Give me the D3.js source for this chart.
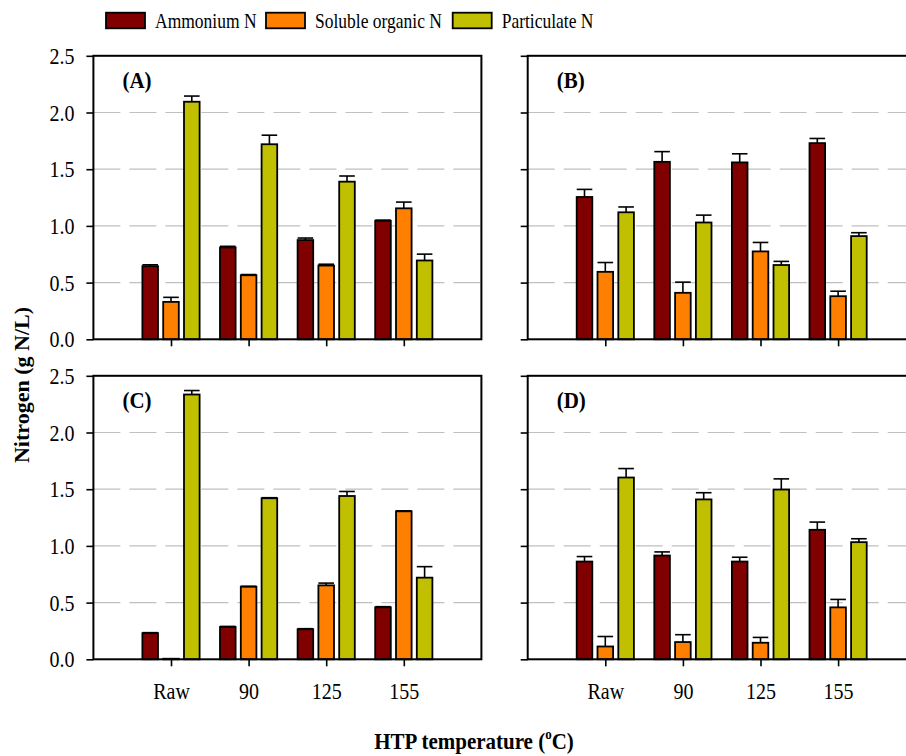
<!DOCTYPE html>
<html>
<head>
<meta charset="utf-8">
<script src="https://cdn.jsdelivr.net/npm/d3@7"></script>
<style>
  body { margin: 0; background: #fff; }
  svg { display: block; font-family: "Liberation Serif", "Times New Roman", serif; }
</style>
</head>
<body>
<svg id="chart" width="906" height="756"></svg>
<script>
// categories / series
const categories = ["Raw", "90", "125", "155"];
const seriesNames = ["Ammonium N", "Soluble organic N", "Particulate N"];
const seriesColors = ["#800000", "#ff8000", "#c0c000"];
const yTicks = [0, 0.5, 1.0, 1.5, 2.0, 2.5];

// values per panel: rows = Ammonium, Soluble organic, Particulate
const meansA = [[0.645, 0.81, 0.875, 1.045], [0.33, 0.565, 0.65, 1.155], [2.095, 1.72, 1.39, 0.695]];
const errA   = [[0.012, 0.01, 0.018, 0.006], [0.04, 0.006, 0.012, 0.055], [0.05, 0.08, 0.05, 0.056]];
const meansB = [[1.255, 1.565, 1.56, 1.73], [0.595, 0.41, 0.775, 0.38], [1.12, 1.03, 0.655, 0.91]];
const errB   = [[0.067, 0.09, 0.076, 0.041], [0.082, 0.094, 0.079, 0.044], [0.047, 0.065, 0.032, 0.03]];
const meansC = [[0.23, 0.285, 0.265, 0.458], [0.005, 0.64, 0.652, 1.305], [2.335, 1.42, 1.44, 0.72]];
const errC   = [[0.005, 0.005, 0.005, 0.006], [0, 0.004, 0.02, 0.004], [0.035, 0.005, 0.04, 0.097]];
const meansD = [[0.862, 0.915, 0.862, 1.142], [0.113, 0.152, 0.146, 0.458], [1.603, 1.41, 1.497, 1.033]];
const errD   = [[0.044, 0.032, 0.038, 0.068], [0.088, 0.065, 0.047, 0.07], [0.079, 0.059, 0.094, 0.03]];

const panels = [
  { label: "(A)", means: meansA, err: errA, col: 0, row: 0 },
  { label: "(B)", means: meansB, err: errB, col: 1, row: 0 },
  { label: "(C)", means: meansC, err: errC, col: 0, row: 1 },
  { label: "(D)", means: meansD, err: errD, col: 1, row: 1 }
];

const svg = d3.select("#chart");

const colLeft = [93.4, 527.7];
const panelW = 388;
const rowTop = [55.8, 375.8];
const panelH = 283.5;
const barW = 15.6;
const stretch = 1.12; // the reference text is a bit taller than wide

const offset = d3.scalePoint().domain(seriesNames).range([-20.8, 20.8]);

panels.forEach(p => {
  const x0 = colLeft[p.col], y0 = rowTop[p.row];
  const x = d3.scaleLinear().domain([0, 5]).range([x0, x0 + panelW]);
  const y = d3.scaleLinear().domain([0, 2.5]).range([y0 + panelH, y0]);
  const g = svg.append("g");

  // grid lines
  g.append("g").selectAll("line")
    .data(yTicks.filter(t => t > 0 && t < 2.5))
    .join("line")
    .attr("x1", x(0)).attr("x2", x(5))
    .attr("y1", d => y(d)).attr("y2", d => y(d))
    .attr("stroke", "#c0c0c0")
    .attr("stroke-width", 1.2)
    .attr("stroke-dasharray", "27,9");

  // bars
  const items = [];
  seriesNames.forEach((s, si) => {
    categories.forEach((c, ci) => {
      items.push({ s, si, ci, v: p.means[si][ci], e: p.err[si][ci] });
    });
  });

  g.append("g").selectAll("rect")
    .data(items)
    .join("rect")
    .attr("x", d => x(d.ci + 1) + offset(d.s) - barW / 2)
    .attr("y", d => y(d.v))
    .attr("width", barW)
    .attr("height", d => y(0) - y(d.v))
    .attr("fill", d => seriesColors[d.si])
    .attr("stroke", "#000")
    .attr("stroke-width", 1.8);

  // error bars (upper only)
  const eb = g.append("g").attr("stroke", "#000").attr("stroke-width", 1.6)
    .selectAll("g").data(items.filter(d => d.e > 0)).join("g");
  eb.append("line")
    .attr("x1", d => x(d.ci + 1) + offset(d.s)).attr("x2", d => x(d.ci + 1) + offset(d.s))
    .attr("y1", d => y(d.v)).attr("y2", d => y(d.v + d.e));
  eb.append("line")
    .attr("x1", d => x(d.ci + 1) + offset(d.s) - barW / 2)
    .attr("x2", d => x(d.ci + 1) + offset(d.s) + barW / 2)
    .attr("y1", d => y(d.v + d.e)).attr("y2", d => y(d.v + d.e));

  // frame
  g.append("rect")
    .attr("x", x(0)).attr("y", y(2.5))
    .attr("width", x(5) - x(0)).attr("height", y(0) - y(2.5))
    .attr("fill", "none").attr("stroke", "#000").attr("stroke-width", 2);

  // y axis
  const yAxis = d3.axisLeft(y).tickValues(yTicks).tickSize(7).tickPadding(12)
    .tickFormat(p.col === 0 ? d3.format(".1f") : () => "");
  const ya = g.append("g").attr("transform", `translate(${x(0)},0)`).call(yAxis);
  ya.select(".domain").remove();
  ya.selectAll(".tick line").attr("stroke-width", 1.6);
  ya.selectAll("text").attr("font-size", 20).attr("font-family", "Liberation Serif, serif")
    .attr("dy", "0.34em").attr("transform", `scale(1,${stretch})`);

  // x axis
  const xAxis = d3.axisBottom(x).tickValues([1, 2, 3, 4]).tickSize(7).tickPadding(14)
    .tickFormat(p.row === 1 ? (d => categories[d - 1]) : () => "");
  const xa = g.append("g").attr("transform", `translate(0,${y(0)})`).call(xAxis);
  xa.select(".domain").remove();
  xa.selectAll(".tick line").attr("stroke-width", 1.6);
  xa.selectAll("text").attr("font-size", 20).attr("font-family", "Liberation Serif, serif")
    .attr("transform", `scale(1,${stretch})`);

  // panel label
  g.append("text")
    .attr("transform", `translate(${x(0) + 29},${y0 + 32}) scale(1,${stretch})`)
    .attr("font-size", 21).attr("font-weight", "bold")
    .text(p.label);
});

// legend
const legendX = [106, 266, 452.7];
const leg = svg.append("g").selectAll("g").data(seriesNames).join("g")
  .attr("transform", (d, i) => `translate(${legendX[i]},12.7)`);
leg.append("rect")
  .attr("width", 39).attr("height", 15.6)
  .attr("fill", (d, i) => seriesColors[i])
  .attr("stroke", "#000").attr("stroke-width", 1.8);
leg.append("text")
  .attr("transform", `translate(49,14.8) scale(1,${stretch + 0.06})`)
  .attr("font-size", 17.5)
  .text(d => d);

// axis titles
svg.append("text")
  .attr("transform", "translate(29,385) rotate(-90)")
  .attr("text-anchor", "middle")
  .attr("font-size", 22).attr("font-weight", "bold")
  .text("Nitrogen (g N/L)");

const xt = svg.append("text")
  .attr("transform", `translate(474,749) scale(1,${stretch})`)
  .attr("text-anchor", "middle")
  .attr("font-size", 21).attr("font-weight", "bold");
xt.append("tspan").text("HTP temperature (");
xt.append("tspan").attr("font-size", 13).attr("dy", -9).text("o");
xt.append("tspan").attr("dy", 9).text("C)");
</script>
</body>
</html>
